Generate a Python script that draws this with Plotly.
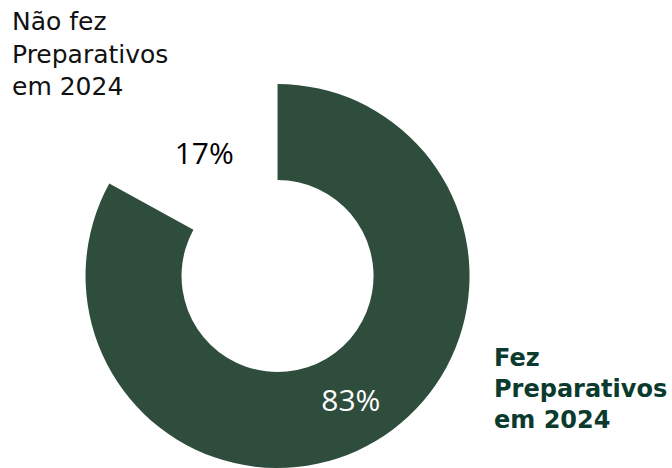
import plotly.graph_objects as go

categories = ["Fez Preparativos em 2024", "Não fez Preparativos em 2024"]
values = [83, 17]
slice_colors = ["#2f4d3d", "rgba(255,255,255,0)"]
text_colors = ["#ffffff", "#000000"]

PCT_FONT = "Open Sans, sans-serif"
LABEL_FONT = "DejaVu Sans, sans-serif"

fig = go.Figure()
fig.add_trace(go.Pie(
    labels=categories,
    values=values,
    hole=0.5,
    sort=False,
    direction="clockwise",
    rotation=0,
    marker=dict(colors=slice_colors, line=dict(width=0)),
    texttemplate="%{percent:.0%}",
    textposition="inside",
    insidetextorientation="horizontal",
    textfont=dict(family=PCT_FONT, size=30, color=text_colors),
    hoverinfo="label+percent",
    showlegend=False,
    domain=dict(x=[0.125, 0.701], y=[0.0, 0.8205]),
))

fig.add_annotation(
    text="<br>".join(["Não fez", "Preparativos", "em 2024"]),
    x=10 / 672, y=1 - 5 / 468, xref="paper", yref="paper",
    xanchor="left", yanchor="top", align="left", showarrow=False,
    font=dict(family=LABEL_FONT, size=25, color="#111111"),
)
fig.add_annotation(
    text="<b>" + "<br>".join(["Fez", "Preparativos", "em 2024"]) + "</b>",
    x=492 / 672, y=1 - 342 / 468, xref="paper", yref="paper",
    xanchor="left", yanchor="top", align="left", showarrow=False,
    font=dict(family=LABEL_FONT, size=24, color="#0b3a2e"),
)

fig.update_layout(
    width=672, height=468,
    autosize=False,
    margin=dict(l=0, r=0, t=0, b=0),
    paper_bgcolor="#ffffff",
    plot_bgcolor="#ffffff",
)

fig.write_html(
    "out.html",
    config={"displayModeBar": False},
    post_script="document.body.style.margin='0';document.body.style.overflow='hidden';",
)
